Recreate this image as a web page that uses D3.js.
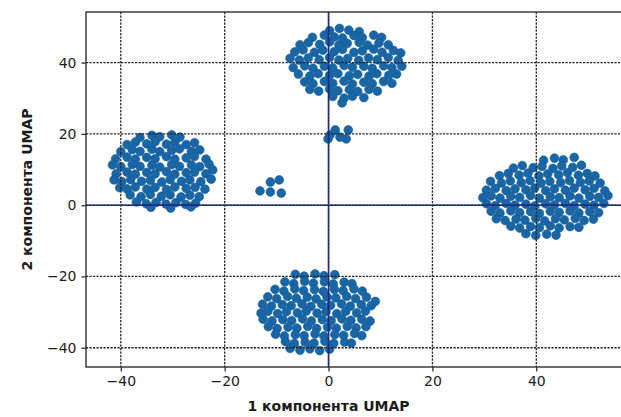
<!DOCTYPE html>
<html>
<head>
<meta charset="utf-8">
<script src="https://cdn.jsdelivr.net/npm/d3@7"></script>
<style>
  html, body { margin: 0; padding: 0; background: #fff; }
  svg { display: block; }
  text { font-family: "DejaVu Sans", sans-serif; fill: #1c1c1c; }
</style>
</head>
<body>
<svg id="chart" width="621" height="417"></svg>
<script>
// UMAP embedding, one array of [component 1, component 2] pairs per group
const clusterTop = [
  [0.2,49.0],[2.1,49.6],[3.9,49.1],[5.9,48.7],
  [-3.1,47.1],[-0.8,47.7],[1.1,47.2],[2.7,46.9],[4.9,47.6],[6.5,47.0],[8.7,47.7],[10.2,47.1],
  [-5.5,45.0],[-3.9,45.6],[-1.7,45.1],[0.2,45.8],[2.0,45.0],[3.6,45.4],[5.9,45.7],[7.5,44.9],[9.7,45.5],[11.5,45.0],
  [-6.5,43.0],[-4.9,43.6],[-2.7,42.9],[-1.1,43.5],[1.1,43.1],[2.7,43.7],[4.9,42.9],[6.5,43.3],[8.7,43.8],[10.3,42.9],[12.5,43.4],[13.9,42.7],
  [-7.4,41.2],[-5.6,40.7],[-3.9,41.3],[-1.8,40.8],[0.2,41.4],[2.0,40.7],[3.7,41.2],[5.8,40.6],[7.7,41.3],[9.4,40.8],[11.5,41.4],[13.4,40.6],
  [-6.8,38.6],[-4.6,39.1],[-3.0,38.4],[-0.8,39.0],[0.8,38.5],[3.0,39.2],[4.6,38.7],[6.8,39.0],[8.4,38.4],[10.6,39.1],[12.2,38.6],[14.1,39.0],
  [-5.8,36.8],[-3.6,36.2],[-2.0,36.9],[0.2,36.4],[1.8,36.9],[4.0,36.3],[5.6,36.7],[7.8,36.2],[9.3,36.9],[11.6,36.4],[13.1,36.8],
  [-4.6,34.6],[-3.0,34.1],[-0.8,34.7],[0.8,34.2],[3.0,34.8],[4.6,34.0],[6.8,34.5],[8.4,34.1],[10.6,34.7],[12.2,34.2],
  [-3.6,32.5],[-1.9,32.0],[0.2,32.6],[1.8,32.1],[4.0,32.4],[5.6,31.9],[7.8,32.5],[9.4,32.0],
  [0.8,30.5],[3.0,30.0],[4.6,30.6],[6.8,30.2],
  [2.6,28.7]
];

const clusterLeft = [
  [-36.3,19.0],[-34.0,19.6],[-32.5,19.2],[-30.2,19.7],[-28.6,19.1],
  [-38.8,17.0],[-37.2,17.7],[-35.0,17.2],[-33.4,17.8],[-31.2,17.1],[-29.6,17.6],[-27.4,17.0],[-25.8,17.5],
  [-40.0,15.0],[-37.8,15.6],[-36.3,15.1],[-34.0,15.7],[-32.5,15.0],[-30.2,15.4],[-28.7,15.8],[-26.4,15.1],[-24.8,15.5],
  [-41.0,13.0],[-38.8,13.5],[-37.2,12.9],[-35.0,13.4],[-33.4,13.0],[-31.2,13.6],[-29.6,12.9],[-27.4,13.3],[-25.8,13.7],[-23.6,12.9],
  [-41.6,11.3],[-40.0,10.8],[-37.8,11.4],[-36.3,10.9],[-34.0,11.2],[-32.5,10.7],[-30.2,11.4],[-28.7,10.9],[-26.4,11.3],[-24.8,10.8],[-23.0,11.5],
  [-40.9,8.8],[-38.8,9.3],[-37.2,8.7],[-35.0,9.2],[-33.4,8.8],[-31.2,9.4],[-29.6,8.7],[-27.4,9.1],[-25.8,9.3],[-23.6,8.8],[-22.3,9.9],
  [-41.3,7.1],[-39.8,6.6],[-38.1,7.2],[-36.0,6.7],[-34.3,7.0],[-32.1,6.5],[-30.5,7.2],[-28.3,6.7],[-26.7,7.1],[-24.6,6.6],[-22.6,7.3],
  [-40.2,4.9],[-38.8,4.6],[-37.2,5.1],[-35.0,4.5],[-33.4,5.0],[-31.2,4.4],[-29.6,5.1],[-27.4,4.7],[-25.7,5.0],[-23.8,4.5],
  [-38.2,2.9],[-36.1,2.4],[-34.3,3.0],[-32.2,2.5],[-30.5,2.9],[-28.4,2.3],[-26.7,2.8],[-24.9,2.4],
  [-37.0,0.9],[-35.1,0.4],[-33.2,0.8],[-31.3,0.3],[-29.4,0.7],[-27.5,0.2],[-25.6,0.6],
  [-34.2,-0.6],[-30.4,-0.8],[-26.5,-0.5]
];

const clusterRight = [
  [41.4,12.6],[43.5,13.2],[45.2,12.7],[47.3,13.4],
  [35.6,10.4],[37.3,11.1],[39.4,10.5],[41.1,10.9],[43.2,10.3],[44.9,11.0],[47.0,10.6],[48.7,11.2],
  [32.9,8.3],[34.6,8.9],[36.7,8.4],[38.4,9.0],[40.5,8.2],[42.2,8.8],[44.3,8.5],[46.0,9.1],[48.1,8.4],[49.8,8.9],[51.3,8.2],
  [31.2,6.7],[33.3,6.2],[35.0,6.8],[37.1,6.3],[38.8,6.9],[40.9,6.2],[42.6,6.7],[44.7,6.3],[46.4,6.9],[48.5,6.4],[50.2,6.8],[52.3,6.2],
  [30.4,4.2],[32.1,4.7],[34.2,4.1],[35.9,4.6],[38.0,4.3],[39.7,4.8],[41.8,4.1],[43.5,4.6],[45.6,4.2],[47.3,4.8],[49.4,4.3],[51.1,4.7],[53.2,4.0],
  [29.7,2.1],[31.3,2.6],[33.0,2.0],[35.1,2.5],[36.8,2.2],[38.9,2.7],[40.6,2.0],[42.7,2.4],[44.4,2.1],[46.5,2.6],[48.2,2.0],[50.3,2.5],[52.0,2.2],[53.8,2.7],
  [30.4,0.4],[32.1,-0.1],[34.2,0.5],[35.9,0.0],[38.0,0.3],[39.7,-0.2],[41.8,0.4],[43.5,0.1],[45.6,0.5],[47.3,-0.1],[49.4,0.3],[51.1,0.0],[53.0,0.5],
  [31.3,-1.7],[33.0,-2.2],[35.1,-1.6],[36.8,-2.1],[38.9,-1.8],[40.6,-2.3],[42.7,-1.7],[44.4,-2.0],[46.5,-1.6],[48.2,-2.2],[50.3,-1.8],[52.0,-2.1],
  [32.3,-3.8],[34.0,-4.3],[36.1,-3.9],[37.8,-4.2],[39.9,-3.7],[41.6,-4.4],[43.7,-3.8],[45.4,-4.1],[47.5,-3.7],[49.2,-4.3],[51.0,-3.9],
  [35.1,-5.9],[36.8,-6.4],[38.9,-6.0],[40.6,-6.3],[42.7,-5.8],[44.4,-6.4],[46.5,-6.0],[48.2,-6.2],
  [38.0,-8.0],[39.9,-8.5],[42.0,-8.1],[43.8,-8.4]
];

const clusterBottom = [
  [-6.4,-19.4],[-4.7,-19.9],[-2.6,-19.3],[-0.9,-19.8],[1.2,-19.5],
  [-8.4,-21.5],[-6.7,-22.0],[-4.6,-21.4],[-2.9,-21.9],[-0.8,-21.5],[0.9,-22.1],[3.0,-21.6],[4.5,-22.0],
  [-10.3,-23.6],[-8.6,-24.1],[-6.5,-23.5],[-4.8,-24.0],[-2.7,-23.7],[-1.0,-24.2],[1.1,-23.6],[2.8,-24.0],[4.9,-23.5],[6.5,-24.1],
  [-11.7,-25.7],[-10.0,-26.2],[-7.9,-25.6],[-6.2,-26.1],[-4.1,-25.8],[-2.4,-26.3],[-0.3,-25.7],[1.4,-26.0],[3.5,-25.6],[5.2,-26.2],[7.3,-25.8],
  [-12.7,-27.8],[-11.0,-28.3],[-8.9,-27.9],[-7.2,-28.2],[-5.1,-27.7],[-3.4,-28.4],[-1.3,-27.8],[0.4,-28.1],[2.5,-27.7],[4.2,-28.3],[6.3,-27.9],[8.2,-28.2],[9.0,-27.0],
  [-13.0,-30.3],[-11.7,-29.8],[-9.8,-30.4],[-8.1,-29.9],[-6.0,-30.2],[-4.3,-29.7],[-2.2,-30.3],[-0.5,-29.9],[1.6,-30.4],[3.3,-29.8],[5.4,-30.2],[7.1,-29.7],
  [-12.6,-32.0],[-10.9,-32.5],[-8.8,-32.1],[-7.1,-32.4],[-5.0,-31.9],[-3.3,-32.5],[-1.2,-32.1],[0.5,-32.4],[2.6,-31.9],[4.3,-32.3],[6.4,-32.0],[8.0,-32.5],
  [-11.6,-34.1],[-9.9,-34.6],[-7.8,-34.2],[-6.1,-34.5],[-4.0,-34.0],[-2.3,-34.6],[-0.2,-34.2],[1.5,-34.5],[3.6,-34.0],[5.3,-34.4],[7.2,-34.1],
  [-10.2,-36.2],[-8.5,-36.7],[-6.4,-36.3],[-4.7,-36.6],[-2.6,-36.1],[-0.9,-36.7],[1.2,-36.3],[2.9,-36.5],[5.0,-36.0],[6.4,-36.6],
  [-8.3,-38.3],[-6.6,-38.8],[-4.5,-38.4],[-2.8,-38.7],[-0.7,-38.2],[1.0,-38.8],[3.1,-38.4],[4.4,-38.7],
  [-7.4,-40.2],[-5.5,-40.7],[-3.6,-40.3],[-1.7,-40.8],[0.2,-40.4]
];

const clusterSmallA = [[-13.2,4.0],[-11.2,6.5],[-9.5,7.1],[-11.2,3.7],[-9.1,3.4]];
const clusterSmallB = [[-0.1,18.6],[1.3,21.1],[2.2,19.1],[3.8,21.1],[3.4,18.6],[0.3,19.7]];

const xTicks = [-40, -20, 0, 20, 40];
const yTicks = [-40, -20, 0, 20, 40];
const xDomain = [-46.7, 56.5];
const yDomain = [-45.4, 54.2];
const xLabel = "1 компонента UMAP";
const yLabel = "2 компонента UMAP";

const points = [].concat(clusterTop, clusterLeft, clusterRight, clusterBottom, clusterSmallA, clusterSmallB);

const svg = d3.select("#chart");
const plot = { left: 86, top: 12, right: 622, bottom: 367 };

const x = d3.scaleLinear().domain(xDomain).range([plot.left, plot.right]);
const y = d3.scaleLinear().domain(yDomain).range([plot.bottom, plot.top]);
const fmt = d => (d < 0 ? "\u2212" + Math.abs(d) : String(d));

// scatter points
svg.append("g")
  .selectAll("circle")
  .data(points)
  .join("circle")
  .attr("cx", d => x(d[0]))
  .attr("cy", d => y(d[1]))
  .attr("r", 4.4)
  .attr("fill", "#1866a6")
  .attr("stroke", "#145a93")
  .attr("stroke-width", 0.6);

// dotted grid, drawn above the points
const grid = svg.append("g")
  .attr("stroke", "#222")
  .attr("stroke-width", 1.3)
  .attr("stroke-dasharray", "2.2,1.3");
grid.selectAll("line.gx").data(xTicks).join("line").attr("class", "gx")
  .attr("x1", d => x(d)).attr("x2", d => x(d))
  .attr("y1", plot.top).attr("y2", plot.bottom);
grid.selectAll("line.gy").data(yTicks).join("line").attr("class", "gy")
  .attr("y1", d => y(d)).attr("y2", d => y(d))
  .attr("x1", plot.left).attr("x2", plot.right);

// zero lines
const zero = svg.append("g").attr("stroke", "#1e2a85").attr("stroke-width", 1.6);
zero.append("line").attr("x1", x(0)).attr("x2", x(0)).attr("y1", plot.top).attr("y2", plot.bottom);
zero.append("line").attr("y1", y(0)).attr("y2", y(0)).attr("x1", plot.left).attr("x2", plot.right);

// frame
svg.append("rect")
  .attr("x", plot.left).attr("y", plot.top)
  .attr("width", plot.right - plot.left).attr("height", plot.bottom - plot.top)
  .attr("fill", "none").attr("stroke", "#303030").attr("stroke-width", 1.4);

// axes
const xAxis = svg.append("g")
  .attr("transform", `translate(0,${plot.bottom})`)
  .call(d3.axisBottom(x).tickValues(xTicks).tickFormat(fmt).tickSize(4.5).tickPadding(5));
const yAxis = svg.append("g")
  .attr("transform", `translate(${plot.left},0)`)
  .call(d3.axisLeft(y).tickValues(yTicks).tickFormat(fmt).tickSize(4.5).tickPadding(5));
[xAxis, yAxis].forEach(g => {
  g.select(".domain").remove();
  g.selectAll(".tick line").attr("stroke", "#303030").attr("stroke-width", 1.3);
  g.selectAll(".tick text")
    .attr("font-family", "DejaVu Sans, sans-serif")
    .attr("font-size", 14)
    .attr("fill", "#1c1c1c");
});

svg.append("text")
  .attr("x", x(0))
  .attr("y", 411)
  .attr("text-anchor", "middle")
  .attr("font-size", 14)
  .attr("font-weight", "bold")
  .text(xLabel);

svg.append("text")
  .attr("transform", `translate(32,${(plot.top + plot.bottom) / 2}) rotate(-90)`)
  .attr("text-anchor", "middle")
  .attr("font-size", 14)
  .attr("font-weight", "bold")
  .text(yLabel);
</script>
</body>
</html>
